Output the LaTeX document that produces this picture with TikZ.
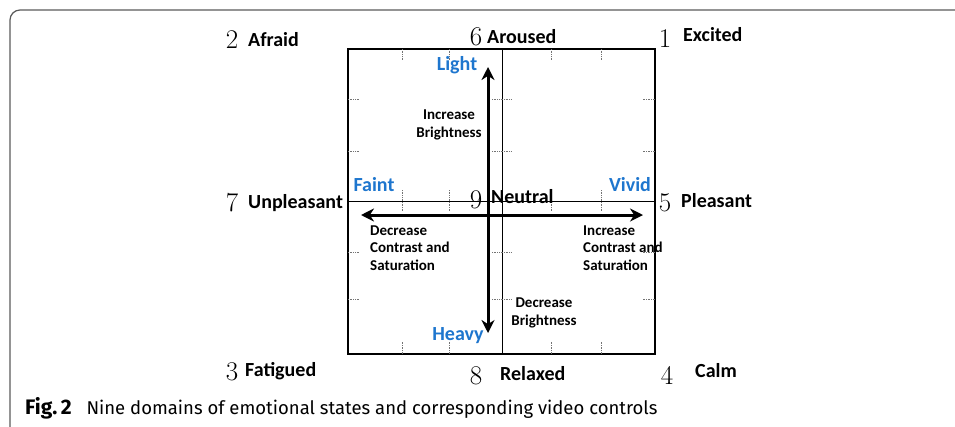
\documentclass[tikz,border=0pt]{standalone}
\usepackage{fontspec}
\newfontfamily\labelfont{Carlito}
\newfontfamily\capfont{Fira Sans}
\usetikzlibrary{arrows.meta,positioning}
\definecolor{poleblue}{RGB}{30,118,206}
\definecolor{framegray}{RGB}{90,90,90}
\begin{document}
\begin{tikzpicture}[x=1pt,y=-1pt]
    % Define styles for labels, ticks and arrows
    \tikzstyle{digit} = [inner sep=0pt, font=\fontsize{27}{27}\selectfont]
    \tikzstyle{state} = [inner sep=0pt, anchor=west, font=\labelfont\bfseries\fontsize{20}{20}\selectfont]
    \tikzstyle{pole} = [inner sep=0pt, text=poleblue, font=\labelfont\bfseries\fontsize{20}{20}\selectfont]
    \tikzstyle{control} = [inner sep=0pt, font=\labelfont\bfseries\fontsize{15}{17.5}\selectfont]
    \tikzstyle{caption} = [inner sep=0pt, anchor=west, font=\capfont\fontsize{18.5}{18.5}\selectfont]
    \tikzstyle{gridtick} = [densely dotted, line width=0.7pt, black!55]
    % Thick arrows with heads at both ends
    \tikzstyle{bigarrow} = [line width=3pt, {Stealth[length=13pt,width=13pt]}-{Stealth[length=13pt,width=13pt]}]
    \useasboundingbox (0,0) rectangle (955,426);
    % Figure frame
    \draw [framegray, line width=1.2pt, rounded corners=10pt] (10,450) -- (10,10) -- (975,10);
    % Square and middle lines
    \coordinate (nw) at (348,49);
    \coordinate (se) at (655,354);
    \draw [line width=1.3pt] (nw) rectangle (se);
    \coordinate (mtop) at (502,49);
    \coordinate (mbot) at (502,354);
    \coordinate (mleft) at (348,201);
    \coordinate (mright) at (655,201);
    \draw [line width=1pt] (mtop) -- (mbot);
    \draw [line width=1pt] (mleft) -- (mright);
    % Dotted grid ticks
    \foreach \x in {402,449,551,601} {
        \draw [gridtick] (\x,49) -- ++(0,11);
        \draw [gridtick] (\x,354) -- ++(0,-12);
        \draw [gridtick] (\x,190) -- (\x,212);
    }
    \foreach \y in {99,151,252,299} {
        \draw [gridtick] (348,\y) -- ++(11,0);
        \draw [gridtick] (655,\y) -- ++(-12,0);
        \draw [gridtick] (492,\y) -- (512,\y);
    }
    % Numbers of the nine domains
    \node (d2) [digit] at (232,40) {2};
    \node (d6) [digit] at (476,37) {6};
    \node (d1) [digit] at (665,39) {1};
    \node (d7) [digit] at (232,203) {7};
    \node (d9) [digit] at (476,200) {9};
    \node (d5) [digit] at (665,203) {5};
    \node (d3) [digit] at (232,372) {3};
    \node (d8) [digit] at (476,376) {8};
    \node (d4) [digit] at (667,375) {4};
    % Emotional states
    \node (afraid) [state] at (248,40) {Afraid};
    \node (aroused) [state] at (487,37) {Aroused};
    \node (excited) [state] at (683,35) {Excited};
    \node (unpleasant) [state] at (248,203) {Unpleasant};
    \node (neutral) [state] at (491,197) {Neutral};
    \node (pleasant) [state] at (681,201) {Pleasant};
    \node (fatigued) [state] at (245,371) {Fatigued};
    \node (relaxed) [state] at (500,374) {Relaxed};
    \node (calm) [state] at (695,371) {Calm};
    % Poles of the video controls
    \node (light) [pole] at (457,65) {Light};
    \node (faint) [pole] at (374,185) {Faint};
    \node (vivid) [pole] at (630,185) {Vivid};
    \node (heavy) [pole] at (458,336) {Heavy};
    % Arrows (brightness and contrast)
    \coordinate (lighttip) at (488,67);
    \coordinate (heavytip) at (488,333);
    \coordinate (fainttip) at (361,215);
    \coordinate (vividtip) at (643,215);
    \draw [bigarrow] (heavytip) -- (lighttip);
    \draw [bigarrow] (fainttip) -- (vividtip);
    % Video controls
    \node (incbright) [control, align=center] at (449,125) {Increase\\Brightness};
    \node (decbright) [control, align=center] at (544,313) {Decrease\\Brightness};
    \node (deccontrast) [control, align=left, anchor=west] at (370,248) {Decrease\\Contrast and\\Saturation};
    \node (inccontrast) [control, align=left, anchor=west] at (583,248) {Increase\\Contrast and\\Saturation};
    % Caption
    \node (caption) [caption] at (25,408) {{\fontsize{21}{21}\selectfont\bfseries Fig.\,2}\hspace{0.8em}Nine domains of emotional states and corresponding video controls};
\end{tikzpicture}
\end{document}
